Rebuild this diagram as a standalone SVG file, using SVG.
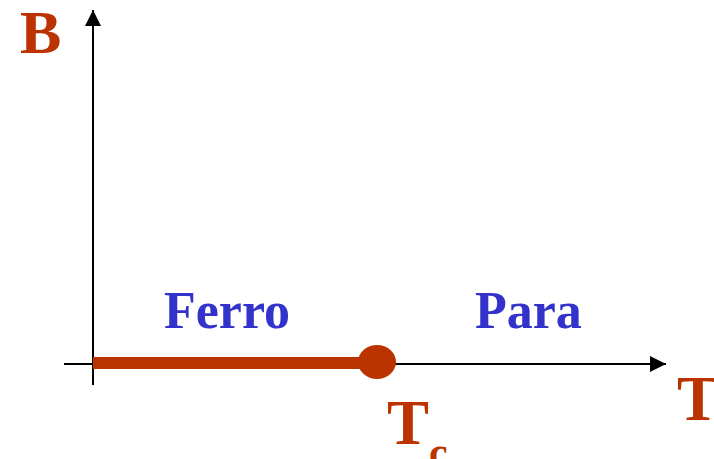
<svg xmlns="http://www.w3.org/2000/svg" width="714" height="459" viewBox="0 0 714 459">
<style>
.axis{stroke:#000;stroke-width:2;fill:none}
.red{fill:#BB3300;font-family:"Liberation Serif",serif;font-weight:bold}
.blue{fill:#3333CC;font-family:"Liberation Serif",serif;font-weight:bold;font-size:52px}
</style>
<defs>
<marker id="ah" markerWidth="16" markerHeight="16" refX="16" refY="8" orient="auto" markerUnits="userSpaceOnUse">
<path d="M0,0 L16,8 L0,16 Z" fill="#000"/>
</marker>
</defs>
<g id="connectors">
<line class="axis" x1="93" y1="385" x2="93" y2="10" marker-end="url(#ah)"/>
<line class="axis" x1="64" y1="364" x2="666" y2="364" marker-end="url(#ah)"/>
<line x1="93" y1="363" x2="377" y2="363" stroke="#BB3300" stroke-width="12"/>
</g>
<g id="tc-point"><ellipse cx="377" cy="362" rx="19" ry="17" fill="#BB3300"/></g>
<g id="label-B"><text class="red" x="20" y="53" font-size="62">B</text></g>
<g id="label-T"><text class="red" x="677" y="420" font-size="63">T</text></g>
<g id="label-Tc"><text class="red" x="387" y="444" font-size="63">T<tspan font-size="42" dy="22">c</tspan></text></g>
<g id="ferro"><text class="blue" x="164" y="328">Ferro</text></g>
<g id="para"><text class="blue" x="475" y="328">Para</text></g>
</svg>
